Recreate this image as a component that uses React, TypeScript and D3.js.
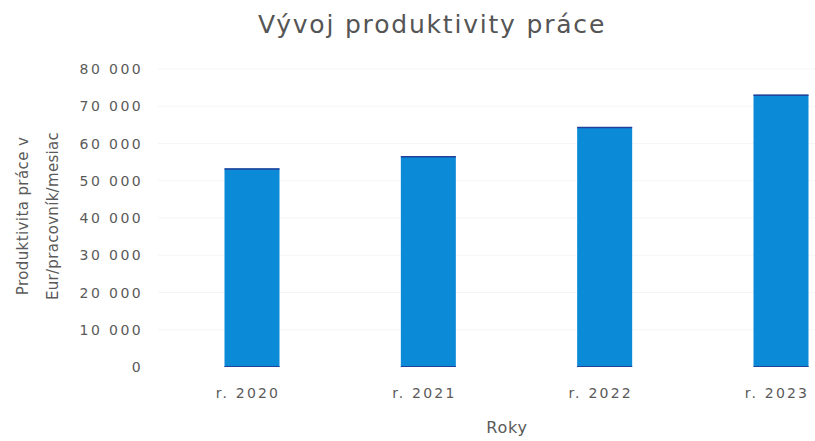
import React from "react";
import * as d3 from "d3";

const categories = ["r. 2020", "r. 2021", "r. 2022", "r. 2023"];
const values = [53300, 56600, 64400, 73100];
const yTicks = [0, 10000, 20000, 30000, 40000, 50000, 60000, 70000, 80000];

const W = 815;
const H = 441;

export default function App() {
  const x = d3.scalePoint<string>().domain(categories).range([252, 781]);
  const y = d3.scaleLinear().domain([0, 80000]).range([367, 69]);
  const bw = 55;
  const fmt = (v: number) => d3.format(",")(v).replace(/,/g, " ");
  const font = "'DejaVu Sans', sans-serif";
  const textColor = "#5a5a5a";

  return (
    <svg width={W} height={H} style={{ position: "absolute", left: 0, top: 0, background: "#fff" }}>
      <rect width={W} height={H} fill="#fff" />
      <text x={432} y={33} textAnchor="middle" fontFamily={font} fontSize={25} fill="#555" letterSpacing={1.8}>
        Vývoj produktivity práce
      </text>
      {yTicks.map((t) => (
        <g key={t}>
          {t > 0 && <line x1={158} x2={W} y1={y(t)} y2={y(t)} stroke="#f5f5f5" strokeWidth={1} />}
          <text x={143} y={y(t)} dy="0.36em" textAnchor="end" fontFamily={font} fontSize={14} fill={textColor} letterSpacing={2.4}>
            {fmt(t)}
          </text>
        </g>
      ))}
      {categories.map((c, i) => {
        const cx = x(c)!;
        const top = y(values[i]);
        return (
          <g key={c}>
            <rect x={cx - bw / 2} y={top} width={bw} height={y(0) - top} fill="#0b8ad8" />
            <line x1={cx - bw / 2} x2={cx + bw / 2} y1={top + 0.5} y2={top + 0.5} stroke="#23409a" strokeWidth={1.5} />
            <line x1={cx - bw / 2} x2={cx + bw / 2} y1={y(0) - 0.5} y2={y(0) - 0.5} stroke="#23409a" strokeWidth={1} />
            <text x={cx - 4} y={398} textAnchor="middle" fontFamily={font} fontSize={14} fill={textColor} letterSpacing={2.2}>
              {c}
            </text>
          </g>
        );
      })}
      <text x={507} y={433} textAnchor="middle" fontFamily={font} fontSize={16} fill={textColor} letterSpacing={0.8}>
        Roky
      </text>
      <g transform="translate(0,216) rotate(-90)">
        <text x={0} y={28} textAnchor="middle" fontFamily={font} fontSize={15} fill={textColor} letterSpacing={0.4}>
          Produktivita práce v
        </text>
        <text x={0} y={58} textAnchor="middle" fontFamily={font} fontSize={15} fill={textColor} letterSpacing={0.3}>
          Eur/pracovník/mesiac
        </text>
      </g>
    </svg>
  );
}
